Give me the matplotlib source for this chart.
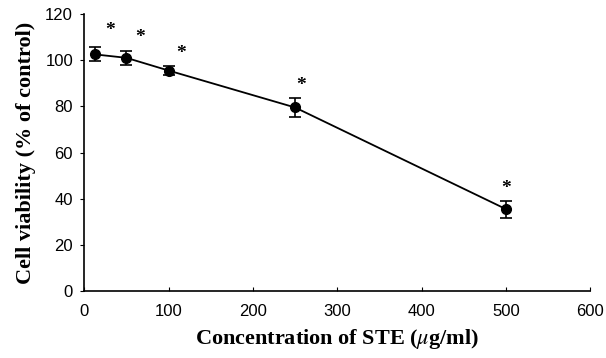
import matplotlib
matplotlib.use("Agg")
import matplotlib.pyplot as plt

plt.rcParams['mathtext.fontset'] = 'stix'

# STE concentration vs cell viability
conc = [12.5, 50, 100, 250, 500]
viability = [102.5, 101, 95.5, 79.5, 35.5]
err = [3, 3, 2, 4.3, 3.7]
stars = ['*', '*', '*', '*', '*']

fig = plt.figure(figsize=(6.06, 3.58), dpi=100)
ax = fig.add_axes([0.139, 0.187, 0.835, 0.774])

ax.errorbar(conc, viability, yerr=err, color='black', marker='o', markersize=7,
            linewidth=1.3, elinewidth=1.2, capsize=4, capthick=1.2)

# significance stars sit a bit up and right of each point
star_dx = [11, 10, 9, 4, 0]
star_dy = [12, 10, 9, 9, 9]
for x, y, e, s, dx, dy in zip(conc, viability, err, stars, star_dx, star_dy):
    ax.annotate(s, (x, y + e), xytext=(dx, dy), textcoords='offset points',
                ha='center', va='center', fontsize=14, fontweight='bold',
                family='Liberation Serif')

ax.set_xlim(0, 600)
ax.set_ylim(0, 120)
ax.set_xticks(range(0, 601, 100))
ax.set_yticks(range(0, 121, 20))
ax.tick_params(axis='x', direction='in', length=3, labelsize=12, pad=9)
ax.tick_params(axis='y', direction='out', length=3, labelsize=12, pad=5)
for lab in ax.get_xticklabels() + ax.get_yticklabels():
    lab.set_family('Liberation Sans')

ax.spines['top'].set_visible(False)
ax.spines['right'].set_visible(False)
ax.spines['left'].set_linewidth(1.2)
ax.spines['bottom'].set_linewidth(1.2)

ax.set_xlabel('Concentration of STE ($\\mu$g/ml)', family='Liberation Serif',
              fontweight='bold', fontsize=16, labelpad=6)
ax.set_ylabel('Cell viability (% of control)', family='Liberation Serif',
              fontweight='bold', fontsize=16, labelpad=7)

fig.savefig('out.png', dpi=100)
